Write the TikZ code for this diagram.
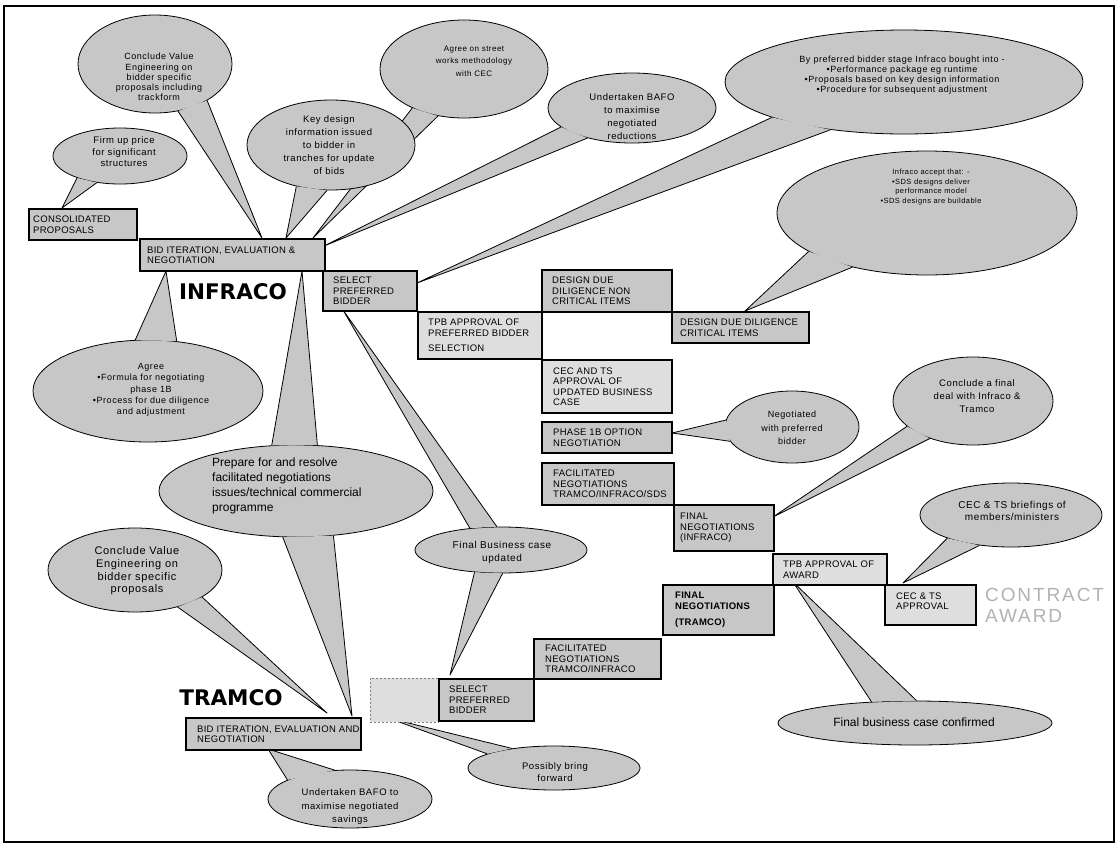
\documentclass[tikz,border=0pt]{standalone}
\usepackage{fontspec}
\usetikzlibrary{shapes.geometric}
\setmainfont{Liberation Sans}
\newfontfamily\cf[LetterSpace=6]{Liberation Sans}
\newfontfamily\boxf[LetterSpace=3]{Liberation Sans}
\newfontfamily\headf{DejaVu Sans}
\newfontfamily\awardf[LetterSpace=10]{Liberation Sans}
\definecolor{bubblefill}{gray}{0.78}
\definecolor{boxfill}{gray}{0.78}
\definecolor{lightfill}{gray}{0.87}
\newcommand{\calltail}[3]{%
  \fill[bubblefill] (#1) -- (#2) -- (#3) -- cycle;
  \draw[line width=0.8pt, line join=round] (#1) -- (#2) -- (#3);}
\begin{document}
\begin{tikzpicture}[x=1pt,y=-1pt,
  bubble/.style={ellipse, draw, line width=0.8pt, fill=bubblefill, inner sep=0pt},
  stagebox/.style={rectangle, draw, line width=2pt, fill=boxfill, anchor=north west, inner sep=0pt},
  lightbox/.style={stagebox, fill=lightfill},
  btext/.style={anchor=west, align=left, inner sep=0pt, font=\boxf\fontsize{9.5}{10.5}\selectfont},
  ctext/.style={align=center, inner sep=0pt},
  head/.style={inner sep=0pt, font=\headf\bfseries\fontsize{21.5}{22}\selectfont},
]
\useasboundingbox (0,0) rectangle (1119,846);
\draw[line width=1.5pt] (4,6) rectangle (1114,842);

% A
\node[bubble, minimum width=134pt, minimum height=56pt] (A) at (120,156) {};
\coordinate (tA) at (62,208);
\calltail{A.-153}{tA}{A.-131}
\node[ctext, font=\cf\fontsize{9.5}{11.5}\selectfont] (Atx) at (124,152) {Firm up price\\for significant\\structures};

% B
\node[bubble, minimum width=154pt, minimum height=98pt] (B) at (155,64) {};
\coordinate (tB) at (262,238);
\calltail{B.-64}{tB}{B.-35}
\node[ctext, font=\cf\fontsize{9}{10.2}\selectfont] (Btx) at (159,77) {Conclude Value\\Engineering on\\bidder specific\\proposals including\\trackform};

% D
\node[bubble, minimum width=168pt, minimum height=98pt] (D) at (464,69) {};
\coordinate (tD) at (313,238);
\calltail{D.-143}{tD}{D.-119}
\node[ctext, font=\cf\fontsize{8}{12.5}\selectfont] (Dtx) at (474,61) {Agree on street\\works methodology\\with CEC};

% C
\node[bubble, minimum width=168pt, minimum height=90pt] (C) at (331,145) {};
\coordinate (tC) at (286,238);
\calltail{C.-130}{tC}{C.-95}
\node[ctext, font=\cf\fontsize{9.5}{13}\selectfont] (Ctx) at (329,145) {Key design\\information issued\\to bidder in\\tranches for update\\of bids};

% E
\node[bubble, minimum width=168pt, minimum height=70pt] (E) at (632,108) {};
\coordinate (tE) at (324,246);
\calltail{E.-165}{tE}{E.-146}
\node[ctext, font=\cf\fontsize{9.5}{13}\selectfont] (Etx) at (632,117) {Undertaken BAFO\\to maximise\\negotiated\\reductions};

% F
\node[bubble, minimum width=358pt, minimum height=104pt] (F) at (904,82) {};
\coordinate (tF) at (417,283);
\calltail{F.-165}{tF}{F.-147}
\node[ctext, font=\cf\fontsize{9}{10}\selectfont] (Ftx) at (902,75) {By preferred bidder stage Infraco bought into -\\•Performance package eg runtime\\•Proposals based on key design information\\•Procedure for subsequent adjustment};

% G
\node[bubble, minimum width=300pt, minimum height=124pt] (G) at (927,213) {};
\coordinate (tG) at (745,311);
\calltail{G.-162}{tG}{G.-144}
\node[ctext, font=\cf\fontsize{7.5}{9.5}\selectfont] (Gtx) at (931,187) {Infraco accept that: -\\•SDS designs deliver\\performance model\\•SDS designs are buildable};

% H
\node[bubble, minimum width=230pt, minimum height=102pt] (H) at (148,391) {};
\coordinate (tH) at (166,271);
\calltail{H.104}{tH}{H.60}
\node[ctext, font=\cf\fontsize{9}{11.3}\selectfont] (Htx) at (151,390) {Agree\\•Formula for negotiating\\phase 1B\\•Process for due diligence\\and adjustment};

% I
\node[bubble, minimum width=274pt, minimum height=92pt] (I) at (296,491) {};
\coordinate (tI1) at (302,271);
\coordinate (tI2) at (352,716);
\calltail{I.118}{tI1}{I.65}
\calltail{I.-106}{tI2}{I.-50}
\node[anchor=west, align=left, inner sep=0pt, font=\fontsize{12}{15}\selectfont] (Itx) at (212,486) {Prepare for and resolve\\facilitated negotiations\\issues/technical commercial\\programme};

% J
\node[bubble, minimum width=174pt, minimum height=84pt] (J) at (135,570) {};
\coordinate (tJ) at (327,713);
\calltail{J.-41}{tJ}{J.-22}
\node[ctext, font=\cf\fontsize{11}{12.6}\selectfont] (Jtx) at (137,571) {Conclude Value\\Engineering on\\bidder specific\\proposals};

% K
\node[bubble, minimum width=164pt, minimum height=58pt] (K) at (350,799) {};
\coordinate (tK) at (268,749);
\calltail{K.163}{tK}{K.118}
\node[ctext, font=\cf\fontsize{9.5}{13.5}\selectfont] (Ktx) at (350,807) {Undertaken BAFO to\\maximise negotiated\\savings};

% L
\node[bubble, minimum width=172pt, minimum height=46pt] (L) at (501,550) {};
\coordinate (tL1) at (343,310);
\coordinate (tL2) at (450,675);
\calltail{L.145}{tL1}{L.100}
\calltail{L.-140}{tL2}{L.-86}
\node[ctext, font=\cf\fontsize{10}{13}\selectfont] (Ltx) at (502,552) {Final Business case\\updated};

% M
\node[bubble, minimum width=172pt, minimum height=44pt] (M) at (554,768) {};
\coordinate (tM) at (388,718);
\calltail{M.168}{tM}{M.155}
\node[ctext, font=\cf\fontsize{9.5}{11.5}\selectfont] (Mtx) at (555,772) {Possibly bring\\forward};

% N
\node[bubble, minimum width=134pt, minimum height=72pt] (N) at (792,427) {};
\coordinate (tN) at (672,433);
\calltail{N.174}{tN}{N.-167}
\node[ctext, font=\cf\fontsize{9}{13.5}\selectfont] (Ntx) at (792,428) {Negotiated\\with preferred\\bidder};

% O
\node[bubble, minimum width=160pt, minimum height=88pt] (O) at (973,401) {};
\coordinate (tO) at (773,517);
\calltail{O.-159}{tO}{O.-139}
\node[ctext, font=\cf\fontsize{9.5}{13}\selectfont] (Otx) at (977,396) {Conclude a final\\deal with Infraco \&\\Tramco};

% P
\node[bubble, minimum width=182pt, minimum height=64pt] (P) at (1011,515) {};
\coordinate (tP) at (903,583);
\calltail{P.-160}{tP}{P.-136}
\node[ctext, font=\cf\fontsize{10}{12}\selectfont] (Ptx) at (1012,511) {CEC \& TS briefings of\\members/ministers};

% Q
\node[bubble, minimum width=274pt, minimum height=44pt] (Q) at (915,723) {};
\coordinate (tQ) at (793,582);
\calltail{Q.154}{tQ}{Q.86}
\node[ctext, font=\fontsize{12}{14}\selectfont] (Qtx) at (914,722) {Final business case confirmed};

% stage boxes
\node[stagebox, minimum width=108pt, minimum height=31pt] (cons) at (28,208) {};
\node[btext] (consT) at ([xshift=5pt]cons.west) {CONSOLIDATED\\PROPOSALS};

\node[stagebox, minimum width=185pt, minimum height=32pt] (bidI) at (139,238) {};
\node[btext] (bidIT) at ([xshift=8pt]bidI.west) {BID ITERATION, EVALUATION \&\\NEGOTIATION};

\node[stagebox, minimum width=94pt, minimum height=40pt] (selI) at (322,270) {};
\node[btext] (selIT) at ([xshift=11pt]selI.west) {SELECT\\PREFERRED\\BIDDER};

\node[lightbox, minimum width=124pt, minimum height=47pt] (tpbI) at (417,311) {};
\node[btext] (tpbIT) at ([xshift=11pt]tpbI.west) {TPB APPROVAL OF\\PREFERRED BIDDER\\[5pt]SELECTION};

\node[stagebox, minimum width=130pt, minimum height=42pt] (ddnc) at (541,269) {};
\node[btext] (ddncT) at ([xshift=11pt]ddnc.west) {DESIGN DUE\\DILIGENCE NON\\CRITICAL ITEMS};

\node[stagebox, minimum width=137pt, minimum height=31pt] (ddc) at (671,311) {};
\node[btext] (ddcT) at ([xshift=9pt]ddc.west) {DESIGN DUE DILIGENCE\\CRITICAL ITEMS};

\node[lightbox, minimum width=130pt, minimum height=53pt] (cects) at (541,359) {};
\node[btext] (cectsT) at ([xshift=12pt]cects.west) {CEC AND TS\\APPROVAL OF\\UPDATED BUSINESS\\CASE};

\node[stagebox, minimum width=130pt, minimum height=31pt] (ph1b) at (541,421) {};
\node[btext] (ph1bT) at ([xshift=12pt]ph1b.west) {PHASE 1B OPTION\\NEGOTIATION};

\node[stagebox, minimum width=132pt, minimum height=42pt] (facI) at (541,462) {};
\node[btext] (facIT) at ([xshift=12pt]facI.west) {FACILITATED\\NEGOTIATIONS\\TRAMCO/INFRACO/SDS};

\node[stagebox, minimum width=100pt, minimum height=46pt] (finI) at (673,504) {};
\node[btext] (finIT) at ([xshift=7pt]finI.west) {FINAL\\NEGOTIATIONS\\(INFRACO)};

\node[lightbox, minimum width=114pt, minimum height=31pt] (tpbA) at (772,553) {};
\node[btext] (tpbAT) at ([xshift=11pt]tpbA.west) {TPB APPROVAL OF\\AWARD};

\node[lightbox, minimum width=91pt, minimum height=40pt] (cecA) at (884,584) {};
\node[btext] (cecAT) at ([xshift=12pt,yshift=4pt]cecA.west) {CEC \& TS\\APPROVAL};

\node[stagebox, minimum width=111pt, minimum height=50pt] (finT) at (662,584) {};
\node[btext, font=\boxf\bfseries\fontsize{9.5}{10.5}\selectfont] (finTT) at ([xshift=13pt]finT.west) {FINAL\\NEGOTIATIONS\\[6pt](TRAMCO)};

\node[stagebox, minimum width=127pt, minimum height=40pt] (facT) at (533,638) {};
\node[btext] (facTT) at ([xshift=12pt]facT.west) {FACILITATED\\NEGOTIATIONS\\TRAMCO/INFRACO};

\node[rectangle, draw=gray, line width=0.8pt, dash pattern=on 2pt off 2pt, fill=lightfill, anchor=north west, inner sep=0pt, minimum width=68pt, minimum height=44pt] (dash) at (370,678) {};

\node[stagebox, minimum width=95pt, minimum height=42pt] (selT) at (438,678) {};
\node[btext] (selTT) at ([xshift=11pt]selT.west) {SELECT\\PREFERRED\\BIDDER};

\node[stagebox, minimum width=175pt, minimum height=32pt] (bidT) at (185,717) {};
\node[btext] (bidTT) at ([xshift=12pt]bidT.west) {BID ITERATION, EVALUATION AND\\NEGOTIATION};

% headings
\node[head] (infraco) at (233,292) {INFRACO};
\node[head] (tramco) at (231,698) {TRAMCO};
\node[anchor=west, align=left, inner sep=0pt, text=gray!60, font=\awardf\fontsize{19}{21}\selectfont] (award) at (985,605) {CONTRACT\\AWARD};
\end{tikzpicture}
\end{document}
